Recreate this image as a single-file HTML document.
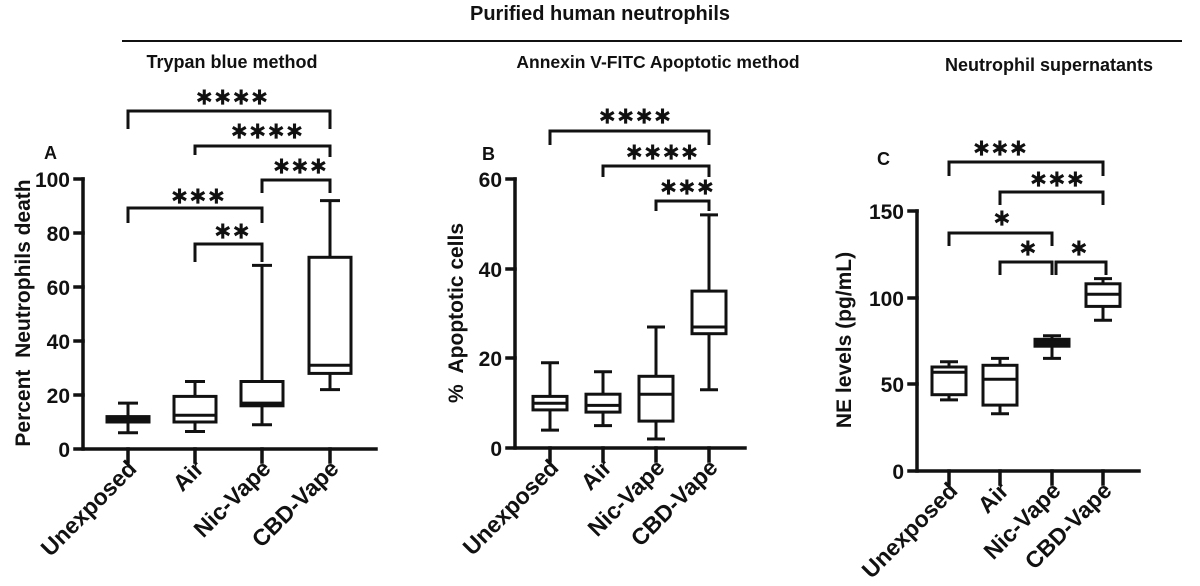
<!DOCTYPE html>
<html><head><meta charset="utf-8"><style>
body{margin:0;background:#fff;}
svg{display:block;font-family:"Liberation Sans",Arial,sans-serif;font-weight:bold;}
</style></head><body>
<svg width="1200" height="586" viewBox="0 0 1200 586" xmlns="http://www.w3.org/2000/svg">
<g fill="#111" font-size="20" text-anchor="middle">
<text x="600" y="20">Purified human neutrophils</text>
<text x="232" y="68" font-size="18">Trypan blue method</text>
<text x="658" y="68" font-size="17.5">Annexin V-FITC Apoptotic method</text>
<text x="1049" y="71" font-size="18">Neutrophil supernatants</text>
</g>
<line x1="122" y1="41" x2="1182" y2="41" stroke="#111" stroke-width="2"/>

<g stroke="#111" fill="none" stroke-width="3.5" stroke-linecap="square">
<path d="M83 179V449H376"/>
<path d="M75 179H83M75 233H83M75 287H83M75 341H83M75 395H83M75 449H83"/>
<path d="M128 449V462M195 449V462M262 449V462M330 449V462"/>
<path d="M515 179V448H745"/>
<path d="M507 179H515M507 269H515M507 358H515M507 448H515"/>
<path d="M550 448V461M603 448V461M656 448V461M709 448V461"/>
<path d="M917 211V471H1139"/>
<path d="M909 211H917M909 298H917M909 384H917M909 471H917"/>
<path d="M949 471V484M1000 471V484M1052 471V484M1103 471V484"/>
</g>

<g stroke="#111" fill="none" stroke-width="3">
<path d="M128 432.8V403.1M118 432.8H138M118 403.1H138"/><rect x="107" y="416.6" width="42" height="5.4" fill="#111"/>
<path d="M195 431.5V381.5M185 431.5H205M185 381.5H205"/><rect x="174" y="396.4" width="42" height="25.6" fill="#fff"/><path d="M174 415.3H216"/>
<path d="M262 424.7V265.4M252 424.7H272M252 265.4H272"/><rect x="241" y="381.5" width="42" height="24.3" fill="#fff"/><path d="M241 403.1H283"/>
<path d="M330 389.6V200.6M320 389.6H340M320 200.6H340"/><rect x="309" y="257.3" width="42" height="116.1" fill="#fff"/><path d="M309 365.3H351"/>
<path d="M128 129V111H330V129"/>
<path d="M195 155V146H330V157"/>
<path d="M262 193V180H330V193"/>
<path d="M128 223V208H262V223"/>
<path d="M195 262V244H262V262"/>

<path d="M550 430.1V362.8M541 430.1H559M541 362.8H559"/><rect x="533" y="396.4" width="34" height="13.5" fill="#fff"/><path d="M533 403.2H567"/>
<path d="M603 425.6V371.8M594 425.6H612M594 371.8H612"/><rect x="586" y="394.2" width="34" height="17.9" fill="#fff"/><path d="M586 405.4H620"/>
<path d="M656 439V327M647 439H665M647 327H665"/><rect x="639" y="376.3" width="34" height="44.8" fill="#fff"/><path d="M639 394.2H673"/>
<path d="M709 389.7V214.9M700 389.7H718M700 214.9H718"/><rect x="692" y="291.1" width="34" height="42.6" fill="#fff"/><path d="M692 327H726"/>
<path d="M550 145V131H709V145"/>
<path d="M603 177V166H709V177"/>
<path d="M656 211V201H709V211"/>

<path d="M949 399.9V361.8M940 399.9H958M940 361.8H958"/><rect x="932" y="367" width="34" height="27.7" fill="#fff"/><path d="M932 372.2H966"/>
<path d="M1000 413.8V358.4M991 413.8H1009M991 358.4H1009"/><rect x="983" y="365.3" width="34" height="39.8" fill="#fff"/><path d="M983 379.2H1017"/>
<path d="M1052 358.4V335.8M1043 358.4H1061M1043 335.8H1061"/><rect x="1035" y="339.3" width="34" height="6.9" fill="#111"/>
<path d="M1103 320.2V278.6M1094 320.2H1112M1094 278.6H1112"/><rect x="1086" y="283.8" width="34" height="22.6" fill="#fff"/><path d="M1086 294.2H1120"/>
<path d="M949 176V162H1103V176"/>
<path d="M1000 205V192H1103V205"/>
<path d="M949 246V233H1052V246"/>
<path d="M1000 275V262H1052V275"/>
<path d="M1056 275V262H1106V275"/>
</g>

<g fill="#111" stroke="#111" stroke-width="1.3" font-size="22" text-anchor="middle" font-weight="normal" font-family="'DejaVu Sans',sans-serif">
<text x="232" y="104">∗∗∗∗</text>
<text x="267" y="138">∗∗∗∗</text>
<text x="300" y="173">∗∗∗</text>
<text x="198" y="203">∗∗∗</text>
<text x="232" y="238">∗∗</text>
<text x="635" y="123">∗∗∗∗</text>
<text x="662" y="159">∗∗∗∗</text>
<text x="687" y="194">∗∗∗</text>
<text x="1000" y="155">∗∗∗</text>
<text x="1057" y="186">∗∗∗</text>
<text x="1002" y="225">∗</text>
<text x="1028" y="255">∗</text>
<text x="1079" y="255">∗</text>
</g>

<g fill="#111" font-size="18">
<text x="44" y="159">A</text>
<text x="482" y="160">B</text>
<text x="877" y="165">C</text>
</g>

<g fill="#111" font-size="21" text-anchor="end">
<text x="70" y="187">100</text><text x="70" y="241">80</text><text x="70" y="295">60</text><text x="70" y="349">40</text><text x="70" y="403">20</text><text x="70" y="457">0</text>
<text x="502" y="187">60</text><text x="502" y="277">40</text><text x="502" y="366">20</text><text x="502" y="456">0</text>
<text x="904" y="219">150</text><text x="904" y="306">100</text><text x="904" y="392">50</text><text x="904" y="479">0</text>
</g>

<g fill="#111" font-size="21" text-anchor="middle">
<text transform="translate(30,313) rotate(-90)">Percent&#160; Neutrophils death</text>
<text transform="translate(463,313) rotate(-90)">%&#160; Apoptotic cells</text>
<text transform="translate(851,340) rotate(-90)">NE levels (pg/mL)</text>
</g>

<g fill="#111" font-size="23" text-anchor="end">
<text transform="translate(138,470) rotate(-45)">Unexposed</text>
<text transform="translate(205,470) rotate(-45)">Air</text>
<text transform="translate(272,470) rotate(-45)">Nic-Vape</text>
<text transform="translate(340,470) rotate(-45)">CBD-Vape</text>
<text transform="translate(560,469) rotate(-45)">Unexposed</text>
<text transform="translate(613,469) rotate(-45)">Air</text>
<text transform="translate(666,469) rotate(-45)">Nic-Vape</text>
<text transform="translate(719,469) rotate(-45)">CBD-Vape</text>
<text transform="translate(959,492) rotate(-45)">Unexposed</text>
<text transform="translate(1010,492) rotate(-45)">Air</text>
<text transform="translate(1062,492) rotate(-45)">Nic-Vape</text>
<text transform="translate(1113,492) rotate(-45)">CBD-Vape</text>
</g>
</svg>
</body></html>
